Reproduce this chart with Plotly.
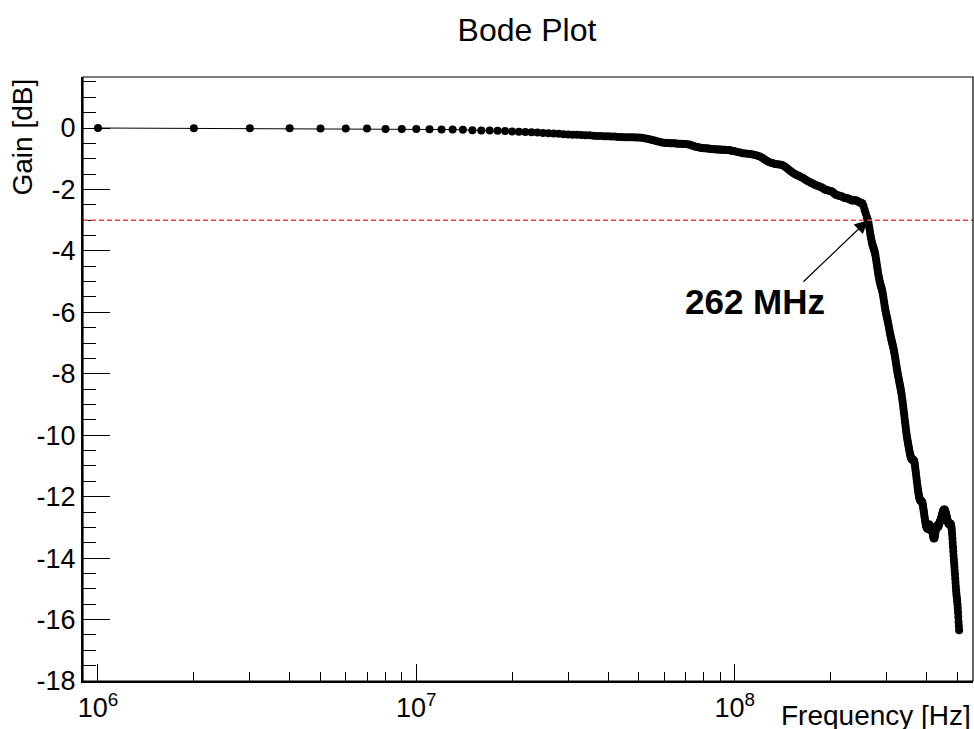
import math
import plotly.graph_objects as go

# ---------------- data ----------------
# measurement grid (MHz)
freq_mhz = list(range(1, 101)) + list(range(102, 261, 2)) + list(range(261, 508))

gain_db = [
    # 1-100 MHz (1 MHz step)
    0.00, -0.01, -0.01, -0.01, -0.02, -0.02, -0.02, -0.03, -0.03, -0.03,
    -0.04, -0.05, -0.05, -0.06, -0.07, -0.08, -0.08, -0.09, -0.10, -0.11,
    -0.12, -0.13, -0.14, -0.15, -0.16, -0.17, -0.18, -0.19, -0.20, -0.21,
    -0.22, -0.22, -0.23, -0.24, -0.24, -0.25, -0.26, -0.26, -0.27, -0.27,
    -0.28, -0.28, -0.29, -0.29, -0.30, -0.30, -0.30, -0.30, -0.31, -0.31,
    -0.32, -0.33, -0.35, -0.37, -0.39, -0.41, -0.43, -0.45, -0.47, -0.48,
    -0.49, -0.49, -0.50, -0.50, -0.50, -0.51, -0.51, -0.51, -0.52, -0.52,
    -0.53, -0.54, -0.56, -0.58, -0.60, -0.62, -0.63, -0.64, -0.65, -0.66,
    -0.66, -0.67, -0.67, -0.68, -0.68, -0.69, -0.69, -0.70, -0.70, -0.70,
    -0.71, -0.71, -0.71, -0.72, -0.72, -0.72, -0.73, -0.74, -0.75, -0.76,
    # 102-260 MHz (2 MHz step)
    -0.78, -0.80, -0.82, -0.83, -0.84, -0.85, -0.86, -0.88, -0.90, -0.93,
    -0.97, -1.02, -1.07, -1.11, -1.13, -1.15, -1.17, -1.18, -1.19, -1.20,
    -1.22, -1.26, -1.31, -1.36, -1.41, -1.45, -1.49, -1.52, -1.55, -1.57,
    -1.60, -1.63, -1.67, -1.70, -1.73, -1.76, -1.79, -1.81, -1.84, -1.86,
    -1.88, -1.90, -1.92, -1.94, -1.97, -2.00, -2.02, -2.03, -2.04, -2.05,
    -2.07, -2.10, -2.14, -2.17, -2.19, -2.20, -2.21, -2.22, -2.24, -2.26,
    -2.28, -2.29, -2.29, -2.30, -2.32, -2.34, -2.36, -2.36, -2.35, -2.35,
    -2.37, -2.39, -2.41, -2.43, -2.44, -2.46, -2.55, -2.67, -2.78, -2.90,
    # 261-507 MHz (1 MHz step)
    -2.95, -3.00, -3.08, -3.17, -3.27, -3.38, -3.48, -3.57, -3.66, -3.74,
    -3.80, -3.86, -3.91, -3.96, -4.02, -4.08, -4.17, -4.27, -4.38, -4.49,
    -4.60, -4.70, -4.80, -4.88, -4.96, -5.03, -5.09, -5.15, -5.20, -5.26,
    -5.33, -5.41, -5.50, -5.60, -5.70, -5.80, -5.89, -5.97, -6.05, -6.12,
    -6.18, -6.25, -6.32, -6.40, -6.48, -6.56, -6.64, -6.71, -6.78, -6.85,
    -6.91, -6.97, -7.03, -7.09, -7.15, -7.22, -7.29, -7.37, -7.46, -7.55,
    -7.64, -7.73, -7.82, -7.90, -7.98, -8.06, -8.13, -8.20, -8.27, -8.34,
    -8.41, -8.48, -8.55, -8.63, -8.72, -8.82, -8.92, -9.03, -9.14, -9.25,
    -9.36, -9.47, -9.58, -9.69, -9.80, -9.90, -10.00, -10.08, -10.16, -10.24,
    -10.31, -10.38, -10.45, -10.52, -10.58, -10.64, -10.69, -10.73, -10.76, -10.78,
    -10.79, -10.80, -10.80, -10.81, -10.82, -10.84, -10.88, -10.95, -11.05, -11.15,
    -11.25, -11.35, -11.45, -11.55, -11.65, -11.74, -11.82, -11.90, -11.97, -12.03,
    -12.07, -12.10, -12.12, -12.13, -12.14, -12.15, -12.16, -12.18, -12.22, -12.28,
    -12.35, -12.43, -12.51, -12.59, -12.67, -12.75, -12.82, -12.88, -12.93, -12.97,
    -13.00, -13.02, -13.03, -13.04, -13.05, -13.00, -12.94, -12.90, -12.92, -12.97,
    -13.03, -13.08, -13.10, -13.08, -13.04, -13.02, -13.05, -13.12, -13.20, -13.27,
    -13.32, -13.35, -13.36, -13.34, -13.30, -13.24, -13.17, -13.10, -13.04, -12.99,
    -12.96, -12.95, -12.96, -12.98, -12.99, -12.98, -12.95, -12.91, -12.87, -12.84,
    -12.82, -12.80, -12.78, -12.75, -12.72, -12.68, -12.64, -12.60, -12.56, -12.52,
    -12.49, -12.46, -12.44, -12.43, -12.42, -12.42, -12.43, -12.45, -12.48, -12.52,
    -12.56, -12.60, -12.64, -12.68, -12.72, -12.76, -12.80, -12.83, -12.86, -12.88,
    -12.89, -12.89, -12.88, -12.87, -12.87, -12.88, -12.90, -12.93, -12.97, -13.03,
    -13.12, -13.23, -13.36, -13.50, -13.64, -13.78, -13.92, -14.05, -14.17, -14.29,
    -14.41, -14.53, -14.66, -14.79, -14.92, -15.05, -15.16, -15.25, -15.33, -15.40,
    -15.50, -15.62, -15.76, -15.92, -16.08, -16.22, -16.35,
]
assert len(freq_mhz) == len(gain_db)

cutoff_mhz = 262
ref_level_db = -3

y_tick_vals = [0, -2, -4, -6, -8, -10, -12, -14, -16, -18]
y_tick_text = ["0", "-2", "-4", "-6", "-8", "-10", "-12", "-14", "-16", "-18"]
x_tick_vals = [1e6, 1e7, 1e8]
x_tick_text = ["10<sup>6</sup>", "10<sup>7</sup>", "10<sup>8</sup>"]
x_minor_vals = [m * 10 ** e for e in (6, 7, 8) for m in range(2, 10) if m * 10 ** e < 5.6e8]

freq_hz = [f * 1e6 for f in freq_mhz]

FONT = "Liberation Sans, Arial, sans-serif"
W, H = 974, 729
L, R, T, B = 83, 1, 77, 48
PW, PH = W - L - R, H - T - B


def px(xp):
    return (xp - L) / PW


def py(yp):
    return (H - B - yp) / PH


fig = go.Figure()
fig.add_trace(go.Scatter(
    x=freq_hz, y=gain_db, mode="lines+markers",
    line=dict(color="black", width=1),
    marker=dict(color="black", size=8, symbol="circle"),
    showlegend=False, hoverinfo="x+y",
))

# -3 dB reference line
fig.add_shape(type="line", xref="paper", yref="y", x0=0, x1=1,
              y0=ref_level_db, y1=ref_level_db,
              line=dict(color="#ff3b3b", width=1.5, dash="5px,3px"))
# frame
fig.add_shape(type="rect", xref="paper", yref="paper", x0=0, x1=1, y0=0, y1=1,
              line=dict(color="black", width=1.2))

# arrow + label
fig.add_annotation(x=math.log10(cutoff_mhz * 1e6), y=ref_level_db, xref="x", yref="y",
                   text="", showarrow=True, arrowhead=2, arrowsize=2.2, arrowwidth=1.2,
                   arrowcolor="black", ax=-66, ay=63, standoff=0)
fig.add_annotation(x=px(755), y=py(301), xref="paper", yref="paper",
                   text=f"<b>{cutoff_mhz} MHz</b>", showarrow=False,
                   font=dict(family=FONT, size=35, color="black"),
                   xanchor="center", yanchor="middle")

# axis titles
fig.add_annotation(x=px(22), y=1.0, xref="paper", yref="paper", text="Gain [dB]",
                   textangle=-90, showarrow=False, xanchor="center", yanchor="top",
                   font=dict(family=FONT, size=28, color="black"))
fig.add_annotation(x=1.0, y=py(715), xref="paper", yref="paper", text="Frequency [Hz]",
                   showarrow=False, xanchor="right", yanchor="middle",
                   font=dict(family=FONT, size=28, color="black"))

fig.update_layout(
    width=W, height=H,
    margin=dict(l=L, r=R, t=T, b=B, pad=0),
    paper_bgcolor="white", plot_bgcolor="white",
    title=dict(text="Bode Plot", x=527 / W, y=1 - 30 / H, xanchor="center", yanchor="middle",
               font=dict(family=FONT, size=32, color="black")),
    font=dict(family=FONT, color="black"),
    xaxis=dict(
        type="log", range=[5.9529, 8.7486],
        showgrid=False, zeroline=False,
        showline=True, linecolor="black", linewidth=2, mirror=False,
        ticks="inside", ticklen=17, tickwidth=1.3, tickcolor="black",
        tickmode="array", tickvals=x_tick_vals, ticktext=x_tick_text,
        tickfont=dict(family=FONT, size=27, color="black"),
        ticklabelstandoff=2,
        minor=dict(tickmode="array", tickvals=x_minor_vals, ticks="inside",
                   ticklen=9, tickwidth=1.3, tickcolor="black", showgrid=False),
    ),
    yaxis=dict(
        range=[-18, 1.66],
        showgrid=False, zeroline=False,
        showline=True, linecolor="black", linewidth=2, mirror=False,
        ticks="inside", ticklen=27, tickwidth=1.3, tickcolor="black",
        tickmode="array", tickvals=y_tick_vals, ticktext=y_tick_text,
        tickfont=dict(family=FONT, size=27, color="black"),
        ticklabelstandoff=0,
        minor=dict(dtick=0.5, tick0=0, ticks="inside", ticklen=13, tickwidth=1.3,
                   tickcolor="black", showgrid=False),
    ),
)

fig.write_html("out.html")
